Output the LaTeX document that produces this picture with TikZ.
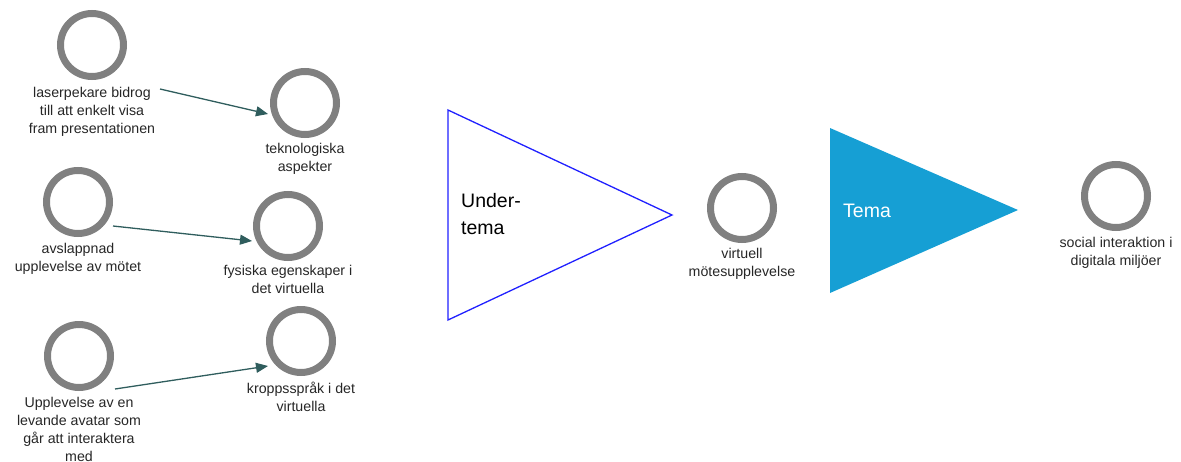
\documentclass[tikz,border=0pt]{standalone}
\usepackage{fontspec}
\setmainfont{Liberation Sans}
\usetikzlibrary{arrows.meta}
\definecolor{ring}{HTML}{808080}
\definecolor{arr}{HTML}{2F5D5D}
\definecolor{tema}{HTML}{169FD4}
\definecolor{ublue}{HTML}{2020FF}
\begin{document}
\begin{tikzpicture}[x=1pt,y=-1pt,
 ringnode/.style={circle,draw=ring,line width=7pt,minimum size=63pt,inner sep=0pt},
 lbl/.style={align=center,font=\fontsize{14.2}{18}\selectfont,inner sep=0pt,anchor=north,text=black!85},
 conn/.style={draw=arr,line width=1.3pt,-{Triangle[length=12pt,width=10pt]}},
 big/.style={align=left,font=\fontsize{19.5}{27}\selectfont,inner sep=0pt,anchor=north west},
]
\useasboundingbox (0,0) rectangle (1181,461);
% rings
\node[ringnode] (c1) at (92,45) {};
\node[ringnode] (c2) at (305,103) {};
\node[ringnode] (c3) at (78,202) {};
\node[ringnode] (c4) at (288,226) {};
\node[ringnode] (c5) at (79,356) {};
\node[ringnode] (c6) at (301,341) {};
\node[ringnode] (c7) at (742,208) {};
\node[ringnode] (c8) at (1116,196) {};
% labels
\node[lbl] (t1) at (92,87) {laserpekare bidrog\\till att enkelt visa\\fram presentationen};
\node[lbl] (t2) at (305,143) {teknologiska\\aspekter};
\node[lbl] (t3) at (78,243) {avslappnad\\upplevelse av mötet};
\node[lbl] (t4) at (288,265) {fysiska egenskaper i\\det virtuella};
\node[lbl] (t5) at (79,397) {Upplevelse av en\\levande avatar som\\går att interaktera\\med};
\node[lbl] (t6) at (301,382) {kroppsspråk i det\\virtuella};
\node[lbl] (t7) at (742,248) {virtuell\\mötesupplevelse};
\node[lbl] (t8) at (1116,237) {social interaktion i\\digitala miljöer};
% connectors
\coordinate (a1s) at (160,89);  \coordinate (a1e) at (268,114);
\coordinate (a2s) at (113,226); \coordinate (a2e) at (252,241);
\coordinate (a3s) at (115,389); \coordinate (a3e) at (268,366);
\draw[conn] (a1s) -- (a1e);
\draw[conn] (a2s) -- (a2e);
\draw[conn] (a3s) -- (a3e);
% triangles
\coordinate (u1) at (448,110); \coordinate (u2) at (672,215); \coordinate (u3) at (448,320);
\draw[ublue,line width=1.3pt,line join=miter] (u1) -- (u2) -- (u3) -- cycle;
\node[big] (ut) at (461,193) {Under-\\tema};
\coordinate (v1) at (830,128); \coordinate (v2) at (1018,210); \coordinate (v3) at (830,293);
\fill[tema] (v1) -- (v2) -- (v3) -- cycle;
\node[big,anchor=west,text=white] (tt) at (843,211) {Tema};
\end{tikzpicture}
\end{document}
